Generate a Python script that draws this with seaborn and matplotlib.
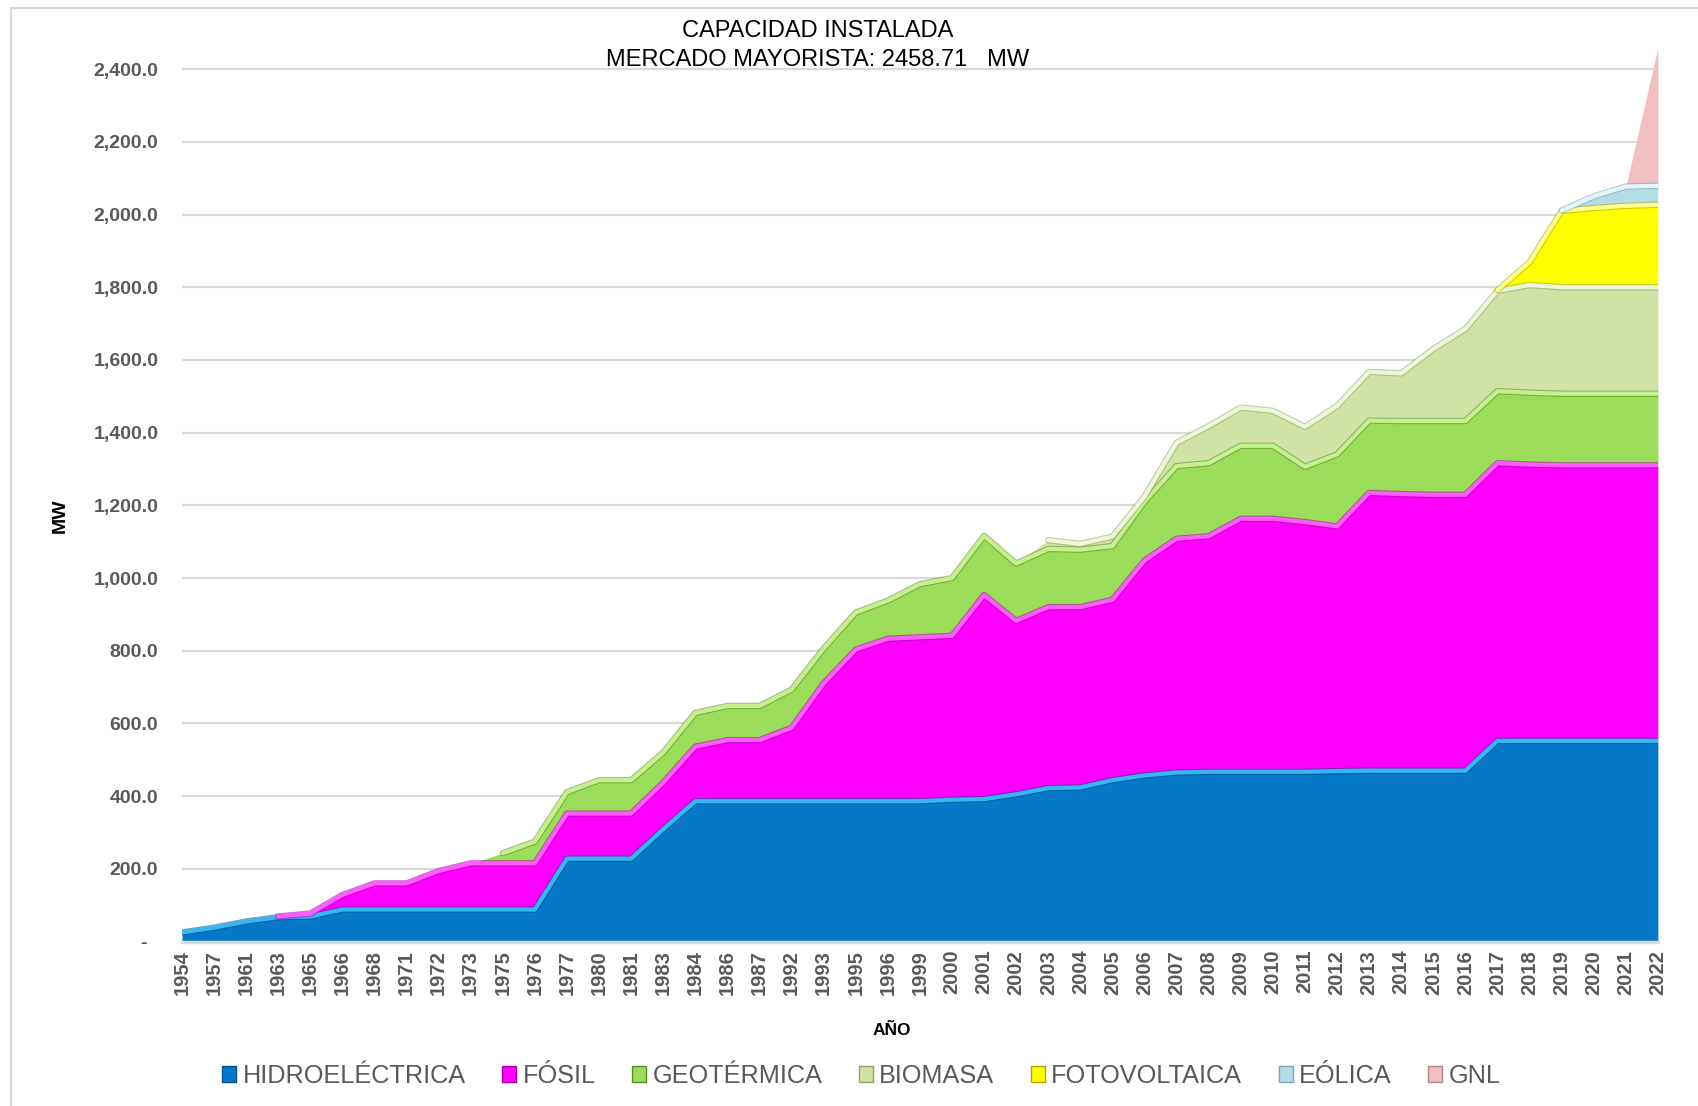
import numpy as np
import pandas as pd
import matplotlib
matplotlib.use("Agg")
import matplotlib.pyplot as plt
import matplotlib.patheffects as pe
from matplotlib.patches import Patch, Rectangle
import seaborn as sns

years = ["1954", "1957", "1961", "1963", "1965", "1966", "1968", "1971", "1972", "1973",
         "1975", "1976", "1977", "1980", "1981", "1983", "1984", "1986", "1987", "1992",
         "1993", "1995", "1996", "1999", "2000", "2001", "2002", "2003", "2004", "2005",
         "2006", "2007", "2008", "2009", "2010", "2011", "2012", "2013", "2014", "2015",
         "2016", "2017", "2018", "2019", "2020", "2021", "2022"]

hidro = [25, 38, 55, 67, 69, 88, 88, 88, 88, 88, 88, 88, 228, 228, 228, 309, 386, 386, 386, 386,
         386, 386, 386, 386, 390, 392, 405, 422, 424, 444, 457, 465, 467, 467, 467, 467, 469, 470,
         470, 470, 470, 552, 552, 552, 552, 552, 552]
fosil = [0, 0, 0, 2, 8, 40, 72, 72, 106, 127, 127, 127, 124, 124, 124, 128, 150, 168, 168, 202,
         324, 417, 447, 451, 451, 561, 477, 498, 496, 496, 591, 643, 648, 696, 696, 687, 673, 764,
         761, 759, 759, 764, 760, 758, 758, 758, 758]
geotermica = [0, 0, 0, 0, 0, 0, 0, 0, 0, 0, 28, 60, 59, 92, 92, 83, 93, 94, 94, 105,
              96, 102, 105, 146, 159, 163, 158, 160, 158, 148, 162, 200, 201, 201, 201, 152, 198, 199,
              201, 203, 203, 198, 198, 197, 197, 197, 197]
biomasa = [0] * 27 + [24, 16, 26, 14, 64, 102, 105, 96, 110, 133, 134, 131, 198, 253, 276, 296,
                      293, 293, 293, 293]
fotovoltaica = [0] * 41 + [2, 63, 210, 218, 224, 227]
eolica = [0] * 43 + [1, 32, 53, 52]
gnl = [0] * 46 + [380]

series_names = ["HIDROELÉCTRICA", "FÓSIL", "GEOTÉRMICA", "BIOMASA", "FOTOVOLTAICA", "EÓLICA", "GNL"]
series_vals = [hidro, fosil, geotermica, biomasa, fotovoltaica, eolica, gnl]
base_cols = ["#0678c8", "#ff00ff", "#9bdc5a", "#d0e2a6", "#ffff00", "#b4dde8", "#f0c0c0"]
hi_cols = ["#38b6f4", "#ff5cff", "#c6f08e", "#eef6d8", "#ffff90", "#e4f6fb", "#f9dede"]
dark_cols = ["#04508a", "#a800a8", "#5a8c2c", "#8ea464", "#b0a400", "#74a8b8", "#b48484"]

sns.set_theme(style="white")
plt.rcParams["font.family"] = ["Liberation Sans", "DejaVu Sans"]

fig = plt.figure(figsize=(16.99, 11.06), dpi=100)
ax = fig.add_axes([0.1071, 0.1487, 0.8687, 0.8118])

x = np.arange(len(years))
bottom = np.zeros(len(years))
for i, (name, vals) in enumerate(zip(series_names, series_vals)):
    v = np.array(vals, dtype=float)
    top = bottom + v
    ax.fill_between(x, bottom, top, color=base_cols[i], linewidth=0, zorder=2 + i * 0.1)
    vis = v > 0
    d = pd.DataFrame({"x": x[vis], "y": top[vis]})
    if len(d) > 1:
        sns.lineplot(data=d, x="x", y="y", ax=ax, color=hi_cols[i], linewidth=3.0,
                     estimator=None, sort=False, zorder=3 + i * 0.1,
                     path_effects=[pe.Stroke(linewidth=4.6, foreground=dark_cols[i], alpha=0.55),
                                   pe.Normal()])
    bottom = top

ax.set_xlim(0, len(years) - 1)
ax.set_ylim(0, 2470)
yt = np.arange(0, 2401, 200)
ax.set_yticks(yt)
ax.set_yticklabels(["-  "] + [f"{t:,.1f}" for t in yt[1:]])
ax.set_xticks(x)
ax.set_xticklabels(years, rotation=90)
ax.tick_params(axis="y", labelsize=14, colors="#595959", pad=17, length=0)
ax.tick_params(axis="x", labelsize=14.5, colors="#595959", pad=6, length=0)
for lab in ax.get_xticklabels() + ax.get_yticklabels():
    lab.set_fontweight("bold")
ax.grid(axis="y", color="#d9d9d9", linewidth=1.6)
ax.grid(axis="x", visible=False)
ax.set_axisbelow(True)
for s in ["left", "right", "top"]:
    ax.spines[s].set_visible(False)
ax.spines["bottom"].set_color("#d9d9d9")
ax.spines["bottom"].set_linewidth(2.5)
ax.spines["bottom"].set_zorder(10)
ax.set_xlabel("")
ax.set_ylabel("")

fig.text(0.481, 0.972, "CAPACIDAD INSTALADA", ha="center", va="center", fontsize=17, color="black")
fig.text(0.481, 0.9458, "MERCADO MAYORISTA: 2458.71   MW", ha="center", va="center", fontsize=17,
         color="black")
fig.text(0.0353, 0.534, "MW", rotation=90, ha="center", va="center", fontsize=14,
         fontweight="bold", color="black")
fig.text(0.525, 0.0687, "AÑO", ha="center", va="center", fontsize=12.5, fontweight="bold",
         color="black")

handles = [Patch(facecolor=base_cols[i], edgecolor=dark_cols[i], linewidth=1.0)
           for i in range(len(series_names))]
leg = fig.legend(handles, series_names, loc="center", bbox_to_anchor=(0.507, 0.0271), ncol=7,
                 frameon=False, fontsize=18.2, handlelength=0.55, handleheight=0.55,
                 handletextpad=0.25, columnspacing=1.45)
for t in leg.get_texts():
    t.set_color("#595959")

fig.patches.append(Rectangle((11 / 1699, -0.01), 1.0, 0.993 + 0.01, transform=fig.transFigure,
                             fill=False, edgecolor="#d9d9d9", linewidth=1.5))

fig.savefig("out.png", dpi=100)
